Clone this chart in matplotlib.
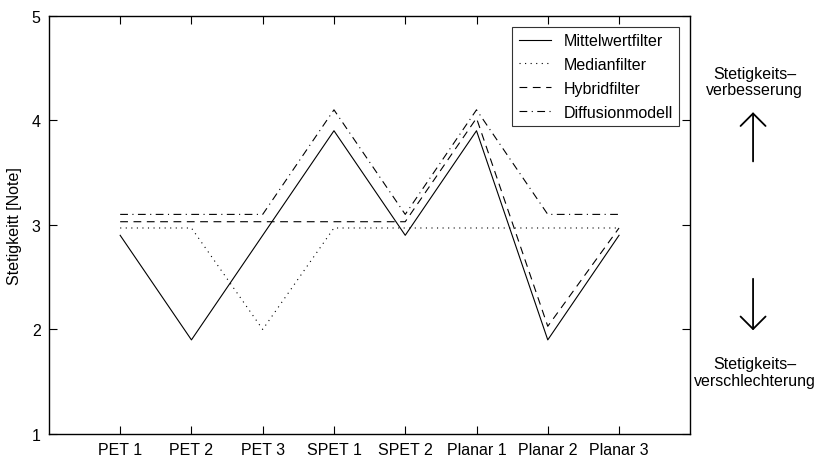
import matplotlib.pyplot as plt

plt.rcParams['font.family'] = ['Liberation Sans', 'DejaVu Sans']

labels = ['PET 1', 'PET 2', 'PET 3', 'SPET 1', 'SPET 2', 'Planar 1', 'Planar 2', 'Planar 3']
mittelwert = [2.9, 1.9, 2.9, 3.9, 2.9, 3.9, 1.9, 2.9]
median = [2.97, 2.97, 2.0, 2.97, 2.97, 2.97, 2.97, 2.97]
hybrid = [3.03, 3.03, 3.03, 3.03, 3.03, 4.02, 2.03, 2.97]
diffusion = [3.1, 3.1, 3.1, 4.1, 3.1, 4.1, 3.1, 3.1]

fig = plt.figure(figsize=(8.15, 4.64), dpi=100)
ax = fig.add_axes([0.060, 0.0625, 0.787, 0.9015])

x = list(range(1, len(labels) + 1))
lw = 0.8
ax.plot(x, mittelwert, color='black', lw=lw, ls='-', label='Mittelwertfilter')
ax.plot(x, median, color='black', lw=lw, ls=(0, (1, 4)), label='Medianfilter')
ax.plot(x, hybrid, color='black', lw=lw, ls=(0, (7, 5)), label='Hybridfilter')
ax.plot(x, diffusion, color='black', lw=lw, ls=(0, (7, 4, 1, 4)), label='Diffusionmodell')

ax.set_xlim(0, 9)
ax.set_ylim(1, 5)
ax.set_xticks(x)
ax.set_xticklabels(labels)
ax.set_yticks([1, 2, 3, 4, 5])
ax.tick_params(direction='in', length=6, width=0.8, top=True, right=True,
               labelsize=11.5, pad=6)
for s in ax.spines.values():
    s.set_linewidth(1.0)
ax.set_ylabel('Stetigkeitt [Note]', fontsize=11.5, labelpad=7)

leg = ax.legend(loc='upper right', fontsize=11.5, frameon=True, fancybox=False,
                edgecolor='black', handlelength=2.0, borderpad=0.4,
                labelspacing=0.55, handletextpad=0.8, borderaxespad=0.7)
leg.get_frame().set_linewidth(0.8)

# Beschriftung rechts neben der Achse
fig.text(0.926, 0.822, 'Stetigkeits\u2013\nverbesserung', ha='center', va='center',
         fontsize=11.5, linespacing=1.15)
fig.text(0.926, 0.196, 'Stetigkeits\u2013\nverschlechterung', ha='center', va='center',
         fontsize=11.5, linespacing=1.15)
fig.patches.append(plt.matplotlib.patches.FancyArrowPatch(
    (0.924, 0.644), (0.924, 0.762), transform=fig.transFigure,
    arrowstyle='->,head_length=9,head_width=9', lw=1.3, color='black'))
fig.patches.append(plt.matplotlib.patches.FancyArrowPatch(
    (0.924, 0.403), (0.924, 0.280), transform=fig.transFigure,
    arrowstyle='->,head_length=9,head_width=9', lw=1.3, color='black'))

fig.savefig('out.png', dpi=100)
